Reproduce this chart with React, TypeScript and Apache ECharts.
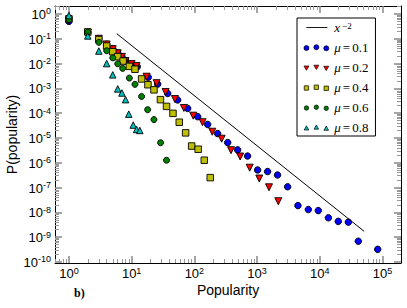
import React, { useEffect, useRef } from 'react';
import * as echarts from 'echarts';

// ---- data ----
const lineX = [5.8, 51000];
const lineY = [0.16, 1.7e-9];

const mu01X = [1, 2, 3, 4, 5, 6, 7, 8, 10, 12.3, 18.4, 26, 37.6, 54.2, 78.2, 113, 163, 235, 340, 489, 706, 1020, 1470, 2120, 3070, 4480, 6560, 9460, 13700, 19700, 28500, 41100, 83800];
const mu01Y = [0.5, 0.18, 0.1, 0.06, 0.04, 0.027, 0.019, 0.013, 0.0095, 0.0074, 0.0028, 0.00148, 6.2e-4, 3.4e-4, 1.55e-4, 7.2e-5, 3.5e-5, 1.5e-5, 6.5e-6, 3.3e-6, 1.86e-6, 5.1e-7, 4.4e-7, 3.2e-7, 1.07e-7, 1.86e-8, 1.29e-8, 1.17e-8, 6.0e-9, 4.3e-9, 4.0e-9, 6.8e-10, 3.2e-10];

const mu02X = [1, 2, 3, 4, 5, 6, 7, 8, 10, 12, 17.3, 25, 34.8, 49, 68, 96, 135, 193, 272, 384, 537, 762, 1084, 1549, 2178];
const mu02Y = [0.55, 0.18, 0.1, 0.059, 0.038, 0.026, 0.0186, 0.0126, 0.0095, 0.0079, 0.00295, 0.00162, 7.1e-4, 3.7e-4, 1.62e-4, 7.9e-5, 4.3e-5, 1.78e-5, 9.3e-6, 3.2e-6, 1.78e-6, 6.3e-7, 2.3e-7, 1.02e-7, 2.8e-8];

const mu04X = [1, 2, 3, 4, 5, 6, 7.3, 9.2, 11.3, 14.4, 18.2, 22.7, 28.8, 36, 45.6, 57.4, 72.6, 90.5, 115, 144, 179];
const mu04Y = [0.64, 0.187, 0.093, 0.051, 0.03, 0.019, 0.0126, 0.0077, 0.0059, 0.0024, 0.0014, 8.7e-4, 3.5e-4, 1.87e-4, 9.8e-5, 4.3e-5, 1.6e-5, 4.7e-6, 3.5e-6, 1.26e-6, 2.5e-7];

const mu06X = [1, 2, 3, 4, 5, 6, 7.2, 9.2, 11.3, 14.4, 18, 22.7, 28.9, 36];
const mu06Y = [0.6, 0.185, 0.072, 0.033, 0.017, 0.0098, 0.0064, 0.0026, 0.00145, 4.7e-4, 1.38e-4, 5.5e-5, 6.4e-6, 1.26e-6];

const mu08X = [1, 2, 3, 4, 5, 6, 7, 8, 9, 10.6, 12, 13.5];
const mu08Y = [0.87, 0.13, 0.032, 0.01, 0.0035, 9.5e-4, 6.5e-4, 3.5e-4, 9.1e-5, 3.3e-5, 2.2e-5, 2.0e-5];

const seriesNames = ['x^-2', 'μ=0.1', 'μ=0.2', 'μ=0.4', 'μ=0.6', 'μ=0.8'];

const xMajorTicks = [1, 10, 100, 1000, 10000, 100000];
const yMajorTicks = [1e-10, 1e-9, 1e-8, 1e-7, 1e-6, 1e-5, 1e-4, 1e-3, 1e-2, 1e-1, 1];

const X_MIN = 0.6;
const X_MAX = 1.97e5;
const Y_MIN = 9e-11;
const Y_MAX = 2.1;

function minorTicks(lo: number, hi: number, eFrom: number, eTo: number) {
  const out: number[] = [];
  for (let e = eFrom; e <= eTo; e++) {
    for (let k = 2; k <= 9; k++) {
      const v = k * Math.pow(10, e);
      if (v > lo && v < hi) out.push(v);
    }
  }
  return out;
}

const xMinorTicks = minorTicks(X_MIN, X_MAX, -1, 5);
const yMinorTicks = minorTicks(Y_MIN, Y_MAX, -11, 0);

const pairs = (xs: number[], ys: number[]) => xs.map((x, i) => [x, ys[i]]);

const SANS = '"Liberation Sans", Arial, sans-serif';
const SERIF = '"Liberation Serif", "Times New Roman", serif';

const powLabel = (v: number) => {
  const e = Math.round(Math.log10(v));
  return `{b|10}{s|${e}}`;
};
const labelRich = {
  b: { fontSize: 13, fontFamily: SANS, color: '#000', verticalAlign: 'bottom' },
  s: { fontSize: 9, fontFamily: SANS, color: '#000', verticalAlign: 'top', padding: [0, 0, 5, 0] },
};

function makeX(position: string, major: boolean, main: boolean) {
  const ax: any = {
    type: 'log', logBase: 10, min: X_MIN, max: X_MAX, position,
    axisLine: { show: major, onZero: false, lineStyle: { color: '#000', width: 1 } },
    axisTick: {
      show: true, inside: true, length: major ? 7 : 4,
      customValues: major ? xMajorTicks : xMinorTicks,
      lineStyle: { color: major ? '#888' : '#999', width: major ? 1.5 : 1 },
    },
    minorTick: { show: false },
    splitLine: { show: false },
    axisLabel: { show: false },
  };
  if (main) {
    ax.axisLabel = { show: true, margin: 3, customValues: xMajorTicks, formatter: powLabel, rich: labelRich, hideOverlap: false };
    ax.name = 'Popularity';
    ax.nameLocation = 'middle';
    ax.nameGap = 20;
    ax.nameMoveOverlap = false;
    ax.nameTextStyle = { fontSize: 14, fontFamily: SANS, color: '#000' };
  }
  return ax;
}

function makeY(position: string, major: boolean, main: boolean) {
  const ax: any = {
    type: 'log', logBase: 10, min: Y_MIN, max: Y_MAX, position,
    axisLine: { show: major, onZero: false, lineStyle: { color: '#000', width: 1 } },
    axisTick: {
      show: true, inside: true, length: major ? 7 : 4,
      customValues: major ? yMajorTicks : yMinorTicks,
      lineStyle: { color: major ? '#888' : '#999', width: major ? 1.5 : 1 },
    },
    minorTick: { show: false },
    splitLine: { show: false },
    axisLabel: { show: false },
  };
  if (main) {
    ax.axisLabel = { show: true, margin: 4, customValues: yMajorTicks, formatter: powLabel, rich: labelRich, hideOverlap: false };
    ax.name = 'P(popularity)';
    ax.nameLocation = 'middle';
    ax.nameGap = 36;
    ax.nameMoveOverlap = false;
    ax.nameTextStyle = { fontSize: 14, fontFamily: SANS, color: '#000' };
  }
  return ax;
}

// lone move-to commands only widen the icon's bounding box (nothing is drawn for them)
const legendIcons: Record<string, string> = {
  'x^-2': 'path://M0,0M26,7M3,3h21v0.9h-21Z',
  'μ=0.1': 'path://M0,0M26,7M0.6,4a2.5,2.5 0 1,0 5,0a2.5,2.5 0 1,0 -5,0Z M10.5,3.2a2.5,2.5 0 1,0 5,0a2.5,2.5 0 1,0 -5,0Z M20.4,4.3a2.5,2.5 0 1,0 5,0a2.5,2.5 0 1,0 -5,0Z',
  'μ=0.2': 'path://M0,0M26,7M0.6,2h5l-2.5,4.3Z M10.5,1.2h5l-2.5,4.3Z M20.4,2.3h5l-2.5,4.3Z',
  'μ=0.4': 'path://M0,0M26,7M0.9,1.8h4.4v4.4h-4.4Z M10.8,1h4.4v4.4h-4.4Z M20.7,2.1h4.4v4.4h-4.4Z',
  'μ=0.6': 'path://M0,0M26,7M0.9,4a2.2,2.2 0 1,0 4.4,0a2.2,2.2 0 1,0 -4.4,0Z M10.8,3.2a2.2,2.2 0 1,0 4.4,0a2.2,2.2 0 1,0 -4.4,0Z M20.7,4.3a2.2,2.2 0 1,0 4.4,0a2.2,2.2 0 1,0 -4.4,0Z',
  'μ=0.8': 'path://M0,0M26,7M0.8,6l2.3,-4.2l2.3,4.2Z M10.7,5.2l2.3,-4.2l2.3,4.2Z M20.6,6.3l2.3,-4.2l2.3,4.2Z',
};

export default function App() {
  const ref = useRef<HTMLDivElement>(null);
  useEffect(() => {
    if (!ref.current) return;
    const chart = echarts.init(ref.current, null, { renderer: 'svg' });
    const scatter = (name: string, xs: number[], ys: number[], symbol: string, size: number, color: string, rotate = 0) => ({
      type: 'scatter', name, data: pairs(xs, ys), symbol, symbolSize: size, symbolRotate: rotate,
      xAxisIndex: 0, yAxisIndex: 0,
      itemStyle: { color, borderColor: '#000', borderWidth: 0.9, opacity: 1 },
      emphasis: { disabled: true },
    });
    chart.setOption({
      animation: false,
      backgroundColor: '#fff',
      textStyle: { fontFamily: SANS },
      grid: { left: 55, right: 6, top: 6, bottom: 45, containLabel: false, outerBoundsMode: 'none' },
      xAxis: [makeX('bottom', true, true), makeX('bottom', false, false), makeX('top', true, false), makeX('top', false, false)],
      yAxis: [makeY('left', true, true), makeY('left', false, false), makeY('right', true, false), makeY('right', false, false)],
      legend: {
        show: true, orient: 'vertical', left: 297, top: 18,
        padding: [3, 7, 2, 6], itemWidth: 26, itemHeight: 7, itemGap: 7, itemTextGap: 12,
        borderColor: '#000', borderWidth: 1, borderRadius: 0, backgroundColor: '#fff',
        selectedMode: false,
        itemStyle: { borderWidth: 0.7, borderColor: '#000' },
        data: seriesNames.map((n, i) => (i === 0
          ? { name: n, icon: legendIcons[n], itemStyle: { borderWidth: 0, color: '#000' } }
          : { name: n, icon: legendIcons[n] })),
        formatter: (name: string) => {
          if (name === 'x^-2') return '{i|x}{sup|−2}';
          return '{i|μ}{e|=}{n|' + name.split('=')[1] + '}';
        },
        textStyle: {
          fontFamily: SERIF, fontSize: 13, color: '#000', lineHeight: 12,
          rich: {
            i: { fontFamily: SERIF, fontStyle: 'italic', fontSize: 13, color: '#000', lineHeight: 12 },
            e: { fontFamily: SERIF, fontSize: 13, color: '#000', lineHeight: 12, padding: [0, 2, 0, 2] },
            n: { fontFamily: SERIF, fontSize: 13, color: '#000', lineHeight: 12 },
            sup: { fontFamily: SERIF, fontSize: 9, color: '#000', verticalAlign: 'top', lineHeight: 9, padding: [0, 0, 3, 2] },
          },
        },
      },
      graphic: [
        { type: 'text', left: 74, top: 287, style: { text: 'b)', font: 'bold 12px "Liberation Serif", serif', fill: '#000' } },
      ],
      series: [
        {
          type: 'line', name: seriesNames[0], data: pairs(lineX, lineY), symbol: 'none', showSymbol: false,
          xAxisIndex: 0, yAxisIndex: 0,
          lineStyle: { color: '#000', width: 1 }, itemStyle: { color: '#000', borderWidth: 0 }, emphasis: { disabled: true },
        },
        scatter(seriesNames[1], mu01X, mu01Y, 'circle', 6.5, '#0000ff'),
        scatter(seriesNames[2], mu02X, mu02Y, 'triangle', 7, '#ff0000', 180),
        scatter(seriesNames[3], mu04X, mu04Y, 'rect', 6.5, '#bfbf00'),
        scatter(seriesNames[4], mu06X, mu06Y, 'circle', 6, '#008000'),
        scatter(seriesNames[5], mu08X, mu08Y, 'triangle', 6.5, '#00bfbf'),
      ],
    });
    return () => chart.dispose();
  }, []);
  return <div ref={ref} style={{ position: 'fixed', left: 0, top: 0, width: 407, height: 308 }} />;
}
